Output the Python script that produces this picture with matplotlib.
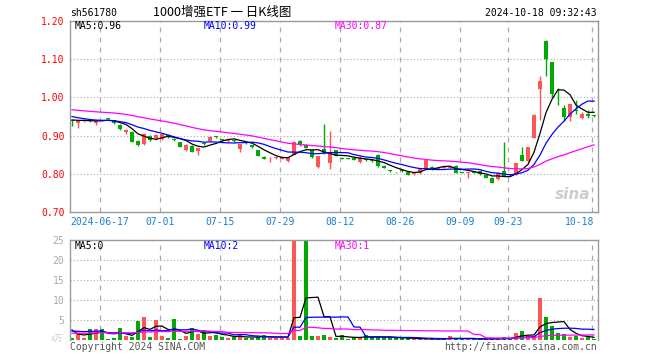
import matplotlib
matplotlib.use('Agg')
import matplotlib.pyplot as plt
import matplotlib.transforms as mtransforms
import numpy as np
import pandas as pd

# ---------------- data ----------------
dates = ['2024-06-07', '2024-06-11', '2024-06-12', '2024-06-13', '2024-06-14',
         '2024-06-17', '2024-06-18', '2024-06-19', '2024-06-20', '2024-06-21',
         '2024-06-24', '2024-06-25', '2024-06-26', '2024-06-27', '2024-06-28',
         '2024-07-01', '2024-07-02', '2024-07-03', '2024-07-04', '2024-07-05',
         '2024-07-08', '2024-07-09', '2024-07-10', '2024-07-11', '2024-07-12',
         '2024-07-15', '2024-07-16', '2024-07-17', '2024-07-18', '2024-07-19',
         '2024-07-22', '2024-07-23', '2024-07-24', '2024-07-25', '2024-07-26',
         '2024-07-29', '2024-07-30', '2024-07-31', '2024-08-01', '2024-08-02',
         '2024-08-05', '2024-08-06', '2024-08-07', '2024-08-08', '2024-08-09',
         '2024-08-12', '2024-08-13', '2024-08-14', '2024-08-15', '2024-08-16',
         '2024-08-19', '2024-08-20', '2024-08-21', '2024-08-22', '2024-08-23',
         '2024-08-26', '2024-08-27', '2024-08-28', '2024-08-29', '2024-08-30',
         '2024-09-02', '2024-09-03', '2024-09-04', '2024-09-05', '2024-09-06',
         '2024-09-09', '2024-09-10', '2024-09-11', '2024-09-12', '2024-09-13',
         '2024-09-18', '2024-09-19', '2024-09-20',
         '2024-09-23', '2024-09-24', '2024-09-25', '2024-09-26', '2024-09-27',
         '2024-09-30',
         '2024-10-08', '2024-10-09', '2024-10-10', '2024-10-11',
         '2024-10-14', '2024-10-15', '2024-10-16', '2024-10-17', '2024-10-18']

opens = [0.940, 0.932, 0.939, 0.941, 0.934, 0.940, 0.945, 0.941, 0.929, 0.909,
         0.910, 0.887, 0.877, 0.900, 0.893, 0.890, 0.902, 0.891, 0.882, 0.862,
         0.874, 0.860, 0.879, 0.887, 0.898, 0.890, 0.886, 0.887, 0.866, 0.881,
         0.875, 0.861, 0.844, 0.838, 0.841, 0.840, 0.834, 0.850, 0.887, 0.875,
         0.861, 0.818, 0.865, 0.828, 0.861, 0.841, 0.841, 0.841, 0.830, 0.838,
         0.835, 0.850, 0.821, 0.809, 0.805, 0.808, 0.804, 0.799, 0.801, 0.815,
         0.818, 0.813, 0.815, 0.815, 0.821, 0.804, 0.802, 0.804, 0.808, 0.797,
         0.790, 0.786, 0.808, 0.798, 0.797, 0.850, 0.834, 0.895, 1.023, 1.148,
         1.092, 0.996, 0.971, 0.948, 0.965, 0.946, 0.957, 0.952]
highs = [0.941, 0.940, 0.944, 0.942, 0.940, 0.941, 0.947, 0.942, 0.930, 0.917,
         0.911, 0.888, 0.906, 0.901, 0.905, 0.905, 0.904, 0.893, 0.883, 0.877,
         0.875, 0.868, 0.882, 0.898, 0.900, 0.892, 0.889, 0.889, 0.879, 0.883,
         0.876, 0.862, 0.846, 0.843, 0.846, 0.847, 0.844, 0.885, 0.888, 0.878,
         0.862, 0.847, 0.931, 0.913, 0.862, 0.843, 0.842, 0.842, 0.846, 0.840,
         0.836, 0.852, 0.823, 0.810, 0.806, 0.809, 0.805, 0.802, 0.815, 0.837,
         0.820, 0.816, 0.819, 0.819, 0.822, 0.805, 0.804, 0.805, 0.809, 0.798,
         0.791, 0.804, 0.882, 0.800, 0.828, 0.869, 0.870, 0.957, 1.055, 1.149,
         1.093, 1.025, 0.979, 0.983, 0.992, 0.963, 0.967, 0.953]
lows = [0.926, 0.919, 0.936, 0.935, 0.929, 0.937, 0.941, 0.931, 0.914, 0.905,
        0.882, 0.872, 0.875, 0.886, 0.889, 0.888, 0.895, 0.887, 0.869, 0.860,
        0.856, 0.849, 0.876, 0.885, 0.895, 0.887, 0.884, 0.884, 0.856, 0.878,
        0.868, 0.846, 0.838, 0.830, 0.839, 0.839, 0.832, 0.848, 0.874, 0.867,
        0.842, 0.816, 0.852, 0.812, 0.846, 0.838, 0.838, 0.835, 0.828, 0.834,
        0.832, 0.818, 0.814, 0.806, 0.802, 0.805, 0.796, 0.797, 0.800, 0.814,
        0.811, 0.812, 0.814, 0.814, 0.802, 0.802, 0.789, 0.801, 0.798, 0.789,
        0.776, 0.784, 0.793, 0.795, 0.796, 0.833, 0.832, 0.894, 0.941, 1.055,
        1.001, 0.979, 0.938, 0.938, 0.957, 0.944, 0.946, 0.949]
closes = [0.938, 0.939, 0.941, 0.937, 0.939, 0.939, 0.944, 0.933, 0.916, 0.914,
          0.884, 0.876, 0.903, 0.888, 0.901, 0.903, 0.896, 0.889, 0.871, 0.876,
          0.858, 0.867, 0.878, 0.897, 0.897, 0.889, 0.888, 0.886, 0.878, 0.880,
          0.869, 0.847, 0.840, 0.839, 0.843, 0.845, 0.843, 0.884, 0.875, 0.868,
          0.843, 0.846, 0.854, 0.854, 0.847, 0.840, 0.840, 0.836, 0.842, 0.836,
          0.833, 0.821, 0.815, 0.808, 0.804, 0.807, 0.797, 0.801, 0.815, 0.836,
          0.812, 0.815, 0.818, 0.818, 0.803, 0.803, 0.803, 0.803, 0.799, 0.790,
          0.777, 0.803, 0.795, 0.797, 0.827, 0.834, 0.869, 0.955, 1.043, 1.100,
          1.008, 0.995, 0.950, 0.982, 0.964, 0.957, 0.951, 0.951]
volumes = [0.6, 1.7, 0.6, 2.75, 2.75, 2.75, 0.35, 0.6, 3.1, 1.0,
           0.8, 4.8, 5.8, 0.8, 5.0, 1.0, 0.6, 5.25, 0.35, 1.0,
           3.1, 1.5, 2.5, 1.0, 1.25, 0.8, 0.6, 0.7, 1.2, 0.6,
           0.6, 0.7, 1.2, 0.6, 0.6, 0.6, 0.6, 25.5, 1.0, 25.0,
           1.0, 1.0, 1.25, 0.8, 0.4, 1.2, 0.25, 0.67, 0.67, 1.2,
           0.67, 0.67, 0.67, 0.67, 0.4, 0.4, 0.4, 0.25, 0.25, 0.25,
           0.25, 0.25, 0.25, 1.0, 0.25, 0.25, 0.25, 0.25, 0.25, 0.25,
           0.4, 0.25, 0.67, 0.4, 1.7, 2.25, 1.0, 1.0, 10.5, 5.8,
           3.5, 1.7, 1.5, 0.67, 1.0, 0.5, 0.83, 0.33]

# sessions before the visible window (needed only for the moving averages)
pre_closes = [0.985, 0.980, 0.978, 0.975, 0.972, 0.970, 0.968, 0.970, 0.968, 0.969,
              0.975, 0.982, 0.985, 0.980, 0.978, 0.982, 0.980, 0.977, 0.978, 0.978,
              0.972, 0.965, 0.960, 0.952, 0.946, 0.944, 0.942, 0.941, 0.940]
pre_volumes = [1.4, 1.5, 1.3, 1.6, 1.4, 1.2, 1.5, 1.4, 1.6, 1.3,
               1.5, 1.4, 1.3, 1.6, 1.5, 1.4, 1.4, 1.5, 1.4, 1.4,
               2.5, 1.5, 2.0, 2.5, 1.5, 6.7, 1.85, 1.5, 1.85]

tick_dates = ['2024-06-17', '2024-07-01', '2024-07-15', '2024-07-29', '2024-08-12',
              '2024-08-26', '2024-09-09', '2024-09-23', '2024-10-18']
price_ticks = [0.70, 0.80, 0.90, 1.00, 1.10, 1.20]
vol_ticks = [5, 10, 15, 20, 25]
ma_periods = [5, 10, 30]

symbol = 'sh561780'
title = '1000增强ETF 一 日K线图'
timestamp = '2024-10-18 09:32:43'

# ---------------- style ----------------
RED = '#ff5555'
GREEN = '#00aa00'
MA_COLORS = ['#000000', '#0000ff', '#ff00ff']
FRAME = '#999999'
GRID = '#aaaaaa'
MONO = ['DejaVu Sans Mono']
CJK = ['Noto Sans CJK SC', 'DejaVu Sans']
FS = 7

W, H = 660, 360
fig = plt.figure(figsize=(W / 100, H / 100), dpi=100)
fig.patch.set_facecolor('white')

def rect(x0, y0, x1, y1):
    return [x0 / W, 1 - y1 / H, (x1 - x0) / W, (y1 - y0) / H]

ax = fig.add_axes(rect(70, 21, 598, 212))
axv = fig.add_axes(rect(70, 240, 598, 340))

n = len(dates)
x = np.arange(n)
o = np.array(opens); h = np.array(highs); l = np.array(lows); c = np.array(closes)
v = np.array(volumes)
cols = np.where(c >= o, RED, GREEN)

all_close = pd.Series(pre_closes + closes)
all_vol = pd.Series(pre_volumes + volumes)
npre = len(pre_closes)
ma_price = [all_close.rolling(p).mean().values[npre:] for p in ma_periods]
ma_vol = [all_vol.rolling(p).mean().values[npre:] for p in ma_periods]

xlim = (-1 / 3, n - 1 / 3)
grid_x = [dates.index(d) - 1 / 3 for d in tick_dates]

# ---- price panel ----
ax.set_xlim(*xlim)
ax.set_ylim(price_ticks[0], price_ticks[-1])
for gy in price_ticks[1:-1]:
    ax.axhline(gy, color=GRID, lw=0.8, ls=(0, (1, 2)), zorder=0)
for gx in grid_x:
    ax.axvline(gx, color=GRID, lw=0.9, ls=(0, (4, 4)), zorder=0)

ax.vlines(x, l, h, colors=cols, lw=1.0, zorder=2)
body_b = np.minimum(o, c)
body_h = np.maximum(np.abs(c - o), 0.0018)
ax.bar(x, body_h, width=0.75, bottom=body_b, color=cols, linewidth=0, zorder=2)
for m, col in zip(ma_price, MA_COLORS):
    ax.plot(x, m, color=col, lw=0.9, zorder=3)

ax.set_yticks(price_ticks)
ax.set_yticklabels(['%.2f' % t for t in price_ticks], color='#ff0000',
                   family=MONO, fontsize=FS)
ax.tick_params(axis='y', length=0, pad=4)
ax.set_xticks([])
for s in ax.spines.values():
    s.set_color(FRAME); s.set_linewidth(1.0)

trans = mtransforms.blended_transform_factory(ax.transData, ax.transAxes)
for i, d in enumerate(tick_dates):
    lab = d if i == 0 else d[5:]
    ha = 'right' if i == len(tick_dates) - 1 else 'center'
    xx = grid_x[i] + (0.35 if ha == 'right' else 0)
    ax.text(xx, -0.025, lab, transform=trans, ha=ha, va='top',
            color='#1a7fd4', family=MONO, fontsize=FS)

def floor2(val):
    return np.floor(val * 100 + 1e-6) / 100

leg_x = [75, 204, 335]
for p, m, col, lx in zip(ma_periods, ma_price, MA_COLORS, leg_x):
    fig.text(lx / W, 1 - 26 / H, 'MA%d:%.2f' % (p, floor2(m[-1])), color=col,
             family=MONO, fontsize=FS, va='center', ha='left')

# watermark
ax.text(0.985, 0.09, 'sina', transform=ax.transAxes, ha='right', va='center',
        color='#cccccc', fontsize=11, fontweight='bold', style='italic',
        family=['DejaVu Sans'], zorder=1)

# ---- volume panel ----
axv.set_xlim(*xlim)
axv.set_ylim(0, 25)
for gy in vol_ticks[:-1]:
    axv.axhline(gy, color=GRID, lw=0.8, ls=(0, (1, 2)), zorder=0)
for gx in grid_x:
    axv.axvline(gx, color=GRID, lw=0.9, ls=(0, (4, 4)), zorder=0)
axv.bar(x, v, width=0.75, color=cols, linewidth=0, zorder=2)
for m, col in zip(ma_vol, MA_COLORS):
    axv.plot(x, m, color=col, lw=0.9, zorder=3)
axv.set_yticks(vol_ticks)
axv.set_yticklabels([str(t) for t in vol_ticks], color='#aaaaaa',
                    family=MONO, fontsize=FS)
axv.tick_params(axis='y', length=0, pad=4)
axv.set_xticks([])
for k, s in axv.spines.items():
    s.set_color(FRAME); s.set_linewidth(1.0)
axv.spines['bottom'].set_visible(False)

for p, m, col, lx in zip(ma_periods, ma_vol, MA_COLORS, leg_x):
    fig.text(lx / W, 1 - 246 / H, 'MA%d:%d' % (p, int(np.floor(m[-1]))), color=col,
             family=MONO, fontsize=FS, va='center', ha='left')

fig.text(63 / W, 1 - 338 / H, 'x万', color='#cccccc', family=CJK, fontsize=6,
         ha='right', va='center')

# ---- header / footer ----
fig.text(70 / W, 1 - 13 / H, symbol, family=MONO, fontsize=FS, ha='left', va='center')
fig.text(222 / W, 1 - 12 / H, title, family=CJK, fontsize=9, ha='center', va='center')
fig.text(597 / W, 1 - 13 / H, timestamp, family=MONO, fontsize=FS, ha='right', va='center')
fig.text(70 / W, 1 - 347 / H, 'Copyright 2024 SINA.COM', family=MONO, fontsize=FS,
         color='#555555', ha='left', va='center')
fig.text(597 / W, 1 - 347 / H, 'http://finance.sina.com.cn', family=MONO, fontsize=FS,
         color='#555555', ha='right', va='center')

fig.savefig('out.png', dpi=100)
